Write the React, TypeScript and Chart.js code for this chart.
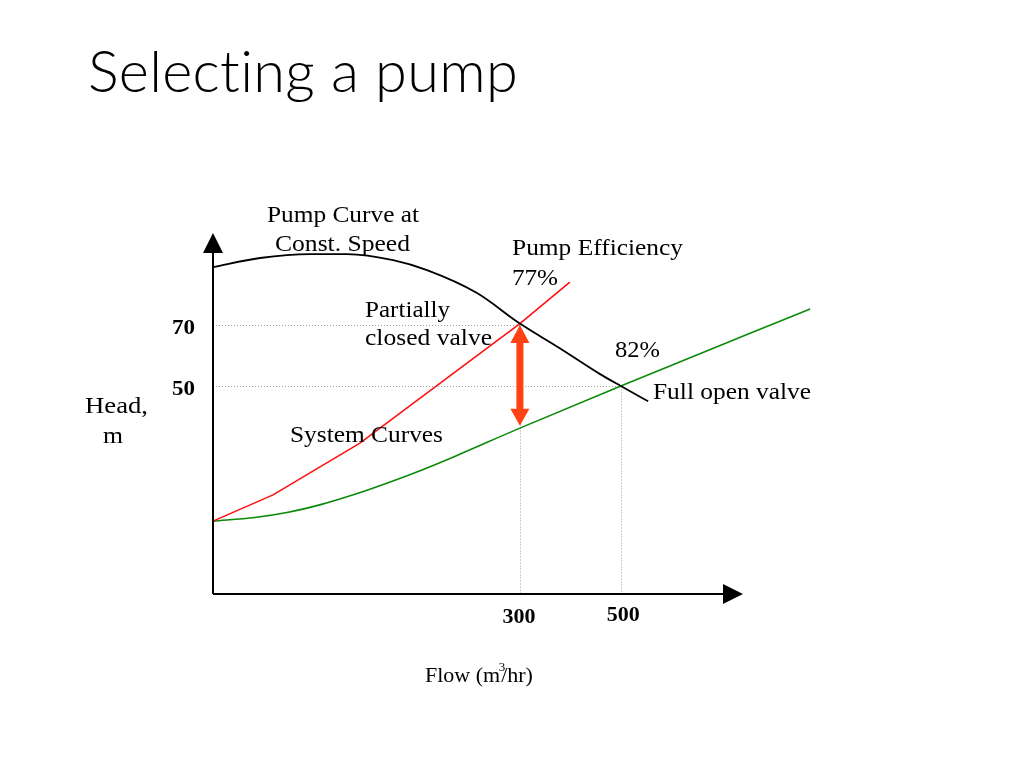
import React, { useEffect, useRef } from "react";
import { Chart, registerables } from "chart.js";

Chart.register(...registerables);

// ---- data (schematic units: flow in m3/hr, head in m) ----
const pumpFlow = [-308, -215, -116, -42, 49, 116, 215, 300, 379, 458, 500, 554];
const pumpHead = [89.0, 92.0, 93.3, 93.3, 91.3, 88.0, 80.5, 70.5, 62.4, 54.0, 50.0, 45.0];

const partialFlow = [-308, -189, -17, 300, 399];
const partialHead = [5.7, 14.3, 31.3, 70.5, 84.1];

const openFlow = [-308, -225, -159, -93, -27, 39, 106, 172, 300, 500, 875];
const openHead = [5.7, 6.9, 8.6, 11.2, 14.5, 18.3, 22.5, 27.0, 36.2, 50.0, 75.3];

const operatingFlow = [300, 500];
const operatingHead = [70, 50];

const xTickValues = [300, 500];
const xTickLabels = ["300", "500"];
const yTickValues = [70, 50];
const yTickLabels = ["70", "50"];

const arrowFlow = 300;
const arrowHeadTop = 70;
const arrowHeadBottom = 37;

const X_MIN = -308;
const X_MAX = 742;
const Y_MIN = -18.2;
const Y_MAX = 100.2;

const SERIF = "'Liberation Serif', 'Times New Roman', serif";

type TextItem = {
  text: string;
  x: number;
  y: number;
  w: number;
  font: string;
  align?: "left" | "center";
  spacing?: string;
};

const annotations: TextItem[] = [
  { text: "Pump Curve at", x: 267, y: 222, w: 152, font: `24px ${SERIF}` },
  { text: "Const. Speed", x: 275, y: 251, w: 135, font: `24px ${SERIF}` },
  { text: "Pump Efficiency", x: 512, y: 255, w: 171, font: `24px ${SERIF}` },
  { text: "77%", x: 512, y: 285, w: 46, font: `24px ${SERIF}` },
  { text: "Partially", x: 365, y: 317, w: 85, font: `24px ${SERIF}` },
  { text: "closed valve", x: 365, y: 345, w: 127, font: `24px ${SERIF}` },
  { text: "82%", x: 615, y: 357, w: 45, font: `24px ${SERIF}` },
  { text: "Full open valve", x: 653, y: 399, w: 158, font: `24px ${SERIF}` },
  { text: "System Curves", x: 290, y: 442, w: 153, font: `24px ${SERIF}` },
  { text: "Head,", x: 85, y: 413, w: 63, font: `24px ${SERIF}` },
  { text: "m", x: 113, y: 443, w: 20, font: `24px ${SERIF}`, align: "center" },
];

function drawText(ctx: CanvasRenderingContext2D, t: TextItem) {
  ctx.save();
  ctx.font = t.font;
  if (t.spacing) (ctx as any).letterSpacing = t.spacing;
  ctx.fillStyle = "#000";
  ctx.textBaseline = "alphabetic";
  ctx.textAlign = "left";
  const m = ctx.measureText(t.text).width;
  const sx = t.w / m;
  const left = t.align === "center" ? t.x - t.w / 2 : t.x;
  ctx.translate(left, t.y);
  ctx.scale(sx, 1);
  ctx.fillText(t.text, 0, 0);
  ctx.restore();
}

const decorPlugin = {
  id: "decor",
  beforeDatasetsDraw(chart: any) {
    const ctx: CanvasRenderingContext2D = chart.ctx;
    const xs = chart.scales.x;
    const ys = chart.scales.y;
    const area = chart.chartArea;
    ctx.save();
    ctx.strokeStyle = "#a0a0a0";
    ctx.lineWidth = 1;
    ctx.setLineDash([1, 2]);
    operatingFlow.forEach((f, i) => {
      const px = Math.round(xs.getPixelForValue(f)) + 0.5;
      const py = Math.round(ys.getPixelForValue(operatingHead[i])) + 0.5;
      ctx.beginPath();
      ctx.moveTo(area.left, py);
      ctx.lineTo(px, py);
      ctx.moveTo(px, py);
      ctx.lineTo(px, area.bottom);
      ctx.stroke();
    });
    ctx.restore();
  },
  afterDraw(chart: any) {
    const ctx: CanvasRenderingContext2D = chart.ctx;
    const xs = chart.scales.x;
    const ys = chart.scales.y;
    const area = chart.chartArea;
    ctx.save();
    // axes
    ctx.strokeStyle = "#000";
    ctx.fillStyle = "#000";
    ctx.lineWidth = 2;
    ctx.beginPath();
    ctx.moveTo(area.left, area.bottom);
    ctx.lineTo(area.left, area.top + 12);
    ctx.moveTo(area.left, area.bottom);
    ctx.lineTo(area.right - 12, area.bottom);
    ctx.stroke();
    ctx.beginPath();
    ctx.moveTo(area.left, area.top);
    ctx.lineTo(area.left - 10, area.top + 20);
    ctx.lineTo(area.left + 10, area.top + 20);
    ctx.closePath();
    ctx.fill();
    ctx.beginPath();
    ctx.moveTo(area.right, area.bottom);
    ctx.lineTo(area.right - 20, area.bottom - 10);
    ctx.lineTo(area.right - 20, area.bottom + 10);
    ctx.closePath();
    ctx.fill();

    // double arrow
    const ax = xs.getPixelForValue(arrowFlow);
    const at = ys.getPixelForValue(arrowHeadTop);
    const ab = ys.getPixelForValue(arrowHeadBottom);
    ctx.fillStyle = "#ff4214";
    ctx.beginPath();
    ctx.moveTo(ax, at);
    ctx.lineTo(ax + 9.5, at + 18);
    ctx.lineTo(ax + 3.5, at + 18);
    ctx.lineTo(ax + 3.5, ab - 17);
    ctx.lineTo(ax + 9.5, ab - 17);
    ctx.lineTo(ax, ab);
    ctx.lineTo(ax - 9.5, ab - 17);
    ctx.lineTo(ax - 3.5, ab - 17);
    ctx.lineTo(ax - 3.5, at + 18);
    ctx.lineTo(ax - 9.5, at + 18);
    ctx.closePath();
    ctx.fill();
    ctx.restore();

    // tick labels
    yTickValues.forEach((v, i) => {
      const py = ys.getPixelForValue(v);
      drawText(ctx, { text: yTickLabels[i], x: 172, y: py + 8.5, w: 23, font: `bold 20px ${SERIF}` });
    });
    xTickValues.forEach((v, i) => {
      const px = xs.getPixelForValue(v);
      drawText(ctx, {
        text: xTickLabels[i],
        x: px + (i === 0 ? -1 : 2.5),
        y: area.bottom + (i === 0 ? 29 : 27),
        w: 33,
        font: `bold 22px ${SERIF}`,
        align: "center",
      });
    });

    // annotations
    annotations.forEach((a) => drawText(ctx, a));

    // x axis title with superscript
    ctx.save();
    ctx.fillStyle = "#000";
    ctx.font = `22px ${SERIF}`;
    ctx.textBaseline = "alphabetic";
    const part1 = "Flow (m";
    const part2 = "/hr)";
    const w1 = ctx.measureText(part1).width;
    ctx.fillText(part1, 425, 682);
    ctx.fillText(part2, 425 + w1 + 1, 682);
    ctx.font = `13px ${SERIF}`;
    ctx.fillText("3", 425 + w1 - 1.5, 671);
    ctx.restore();

    // slide title (non-zero letter spacing disables the "ti" ligature)
    drawText(ctx, {
      text: "Selecting a pump",
      x: 88,
      y: 92,
      w: 430,
      font: `300 58px Lato, 'Open Sans', sans-serif`,
      spacing: "0.3px",
    });
  },
};

export default function App() {
  const ref = useRef<HTMLCanvasElement | null>(null);
  useEffect(() => {
    if (!ref.current) return;
    const toPts = (xs: number[], ys: number[]) => xs.map((x, i) => ({ x, y: ys[i] }));
    const chart = new Chart(ref.current, {
      type: "line",
      data: {
        datasets: [
          {
            label: "Pump Curve at Const. Speed",
            data: toPts(pumpFlow, pumpHead),
            borderColor: "#000000",
            borderWidth: 1.8,
            pointRadius: 0,
            cubicInterpolationMode: "monotone",
            fill: false,
            clip: false,
          },
          {
            label: "Partially closed valve",
            data: toPts(partialFlow, partialHead),
            borderColor: "#ff1010",
            borderWidth: 1.6,
            pointRadius: 0,
            tension: 0,
            fill: false,
            clip: false,
          },
          {
            label: "Full open valve",
            data: toPts(openFlow, openHead),
            borderColor: "#0a8a0a",
            borderWidth: 1.6,
            pointRadius: 0,
            cubicInterpolationMode: "monotone",
            fill: false,
            clip: false,
          },
        ],
      } as any,
      options: {
        animation: false,
        responsive: false,
        events: [],
        layout: { padding: { left: 213, right: 281, top: 233, bottom: 174 } },
        scales: {
          x: { type: "linear", min: X_MIN, max: X_MAX, display: false },
          y: { type: "linear", min: Y_MIN, max: Y_MAX, display: false },
        },
        plugins: { legend: { display: false }, tooltip: { enabled: false }, title: { display: false } },
      } as any,
      plugins: [decorPlugin],
    });
    return () => chart.destroy();
  }, []);
  return (
    <div style={{ position: "absolute", left: 0, top: 0, width: 1024, height: 768, background: "#fff" }}>
      <canvas ref={ref} width={1024} height={768} style={{ width: 1024, height: 768, display: "block" }} />
    </div>
  );
}
